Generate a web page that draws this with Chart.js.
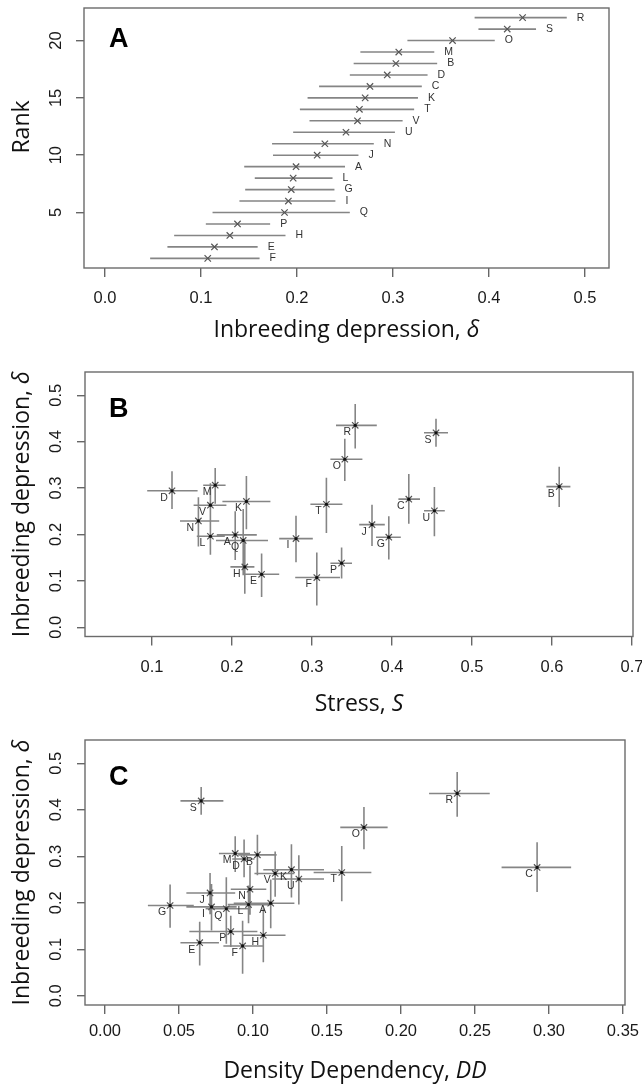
<!DOCTYPE html>
<html><head><meta charset="utf-8">
<script src="https://cdn.jsdelivr.net/npm/chart.js@4.4.1/dist/chart.umd.min.js"></script>
<style>
html,body{margin:0;padding:0;background:#fff;width:642px;height:1087px;overflow:hidden}
canvas{position:absolute;left:0;display:block}
</style></head><body>
<canvas id="cA" style="top:0px"></canvas>
<canvas id="cB" style="top:355px"></canvas>
<canvas id="cC" style="top:725px"></canvas>
<script>
// ---- data (populations A..V) ----
const pops     = ['A','B','C','D','E','F','G','H','I','J','K','L','M','N','O','P','Q','R','S','T','U','V'];
const rankOrd  = [9,18,16,17,2,1,7,3,6,10,15,8,19,11,20,4,5,22,21,14,12,13];
const delta    = [0.199,0.303,0.276,0.294,0.114,0.107,0.194,0.130,0.191,0.221,0.271,0.196,0.306,0.229,0.362,0.138,0.187,0.435,0.419,0.265,0.251,0.263];
const deltaLo  = [0.145,0.259,0.223,0.255,0.065,0.047,0.146,0.072,0.140,0.175,0.211,0.156,0.266,0.174,0.315,0.105,0.112,0.385,0.389,0.203,0.196,0.213];
const deltaHi  = [0.250,0.346,0.330,0.336,0.159,0.161,0.239,0.188,0.240,0.264,0.326,0.237,0.343,0.280,0.406,0.172,0.255,0.481,0.449,0.322,0.302,0.310];
const stress   = [0.204,0.609,0.421,0.125,0.237,0.306,0.396,0.216,0.280,0.375,0.218,0.173,0.179,0.158,0.341,0.337,0.214,0.354,0.455,0.318,0.453,0.173];
const stressLo = [0.181,0.593,0.408,0.094,0.216,0.279,0.380,0.198,0.259,0.359,0.188,0.156,0.164,0.135,0.323,0.323,0.180,0.330,0.440,0.298,0.440,0.152];
const stressHi = [0.231,0.623,0.435,0.157,0.259,0.335,0.411,0.228,0.301,0.391,0.248,0.191,0.192,0.184,0.363,0.350,0.245,0.381,0.470,0.338,0.466,0.193];
const dd       = [0.112,0.103,0.292,0.094,0.064,0.093,0.044,0.107,0.072,0.071,0.126,0.097,0.088,0.098,0.175,0.085,0.082,0.238,0.065,0.160,0.131,0.115];
const ddLo     = [0.087,0.090,0.268,0.086,0.051,0.080,0.029,0.093,0.055,0.055,0.107,0.083,0.077,0.085,0.159,0.057,0.068,0.219,0.051,0.141,0.113,0.101];
const ddHi     = [0.128,0.116,0.315,0.101,0.077,0.107,0.060,0.122,0.089,0.088,0.148,0.112,0.098,0.109,0.191,0.103,0.098,0.260,0.080,0.180,0.148,0.128];
// ---- tick labels ----
const aXTicks  = [0,0.1,0.2,0.3,0.4,0.5];
const aYTicks  = [5,10,15,20];
const bXTicks  = [0.1,0.2,0.3,0.4,0.5,0.6,0.7];
const cXTicks  = [0,0.05,0.1,0.15,0.2,0.25,0.3,0.35];
const dYTicks  = [0,0.1,0.2,0.3,0.4,0.5];

const BAR = '#858585', MARK = '#555';
const TICKFONT = '"Liberation Sans", Arial, sans-serif';
const TITLEFONT = '"Open Sans", "Noto Sans", sans-serif';
const TICKSIZE = 16.5, TITLESIZE = 23;

function hBars(ys, lo, hi){ const d=[]; ys.forEach((y,i)=>{ d.push({x:lo[i],y:y},{x:hi[i],y:y},{x:null,y:null}); }); return d; }
function vBars(xs, lo, hi){ const d=[]; xs.forEach((x,i)=>{ d.push({x:x,y:lo[i]},{x:x,y:hi[i]},{x:null,y:null}); }); return d; }
function pts(xs, ys){ return xs.map((x,i)=>({x:x,y:ys[i]})); }
function lineDs(data){ return {data, showLine:true, spanGaps:false, borderColor:BAR, borderWidth:1.6, pointRadius:0, order:3}; }
function markDs(data){ return {data, showLine:false, pointStyle:'crossRot', pointRadius:4.5, borderColor:MARK, borderWidth:1.2, backgroundColor:MARK, order:2}; }
function dotDs(data){ return {data, showLine:false, pointStyle:'circle', pointRadius:1.6, borderWidth:0, backgroundColor:'#111', order:1}; }

function mixed(ctx, parts, size, cx, cy, rot){
  ctx.save(); ctx.translate(cx, cy); if (rot) ctx.rotate(-Math.PI/2);
  const fonts = parts.map(p => (p.i ? 'italic ' : '') + size + 'px ' + TITLEFONT);
  let total = 0;
  parts.forEach((p,k)=>{ ctx.font = fonts[k]; total += ctx.measureText(p.t).width; });
  let x = -total/2;
  ctx.textBaseline='middle'; ctx.textAlign='left'; ctx.fillStyle='#111';
  parts.forEach((p,k)=>{ ctx.font = fonts[k]; ctx.fillText(p.t, x, 0); x += ctx.measureText(p.t).width; });
  ctx.restore();
}

function makePanel(cfg){
  const cv = document.getElementById(cfg.id);
  cv.width = 642; cv.height = cfg.H;
  const box = cfg.box;
  const deco = {
    id: 'deco' + cfg.id,
    afterDraw(chart){
      const ctx = chart.ctx, ca = chart.chartArea, xs = chart.scales.x, ys = chart.scales.y;
      ctx.save();
      ctx.strokeStyle = '#6b6b6b'; ctx.lineWidth = 1.4;
      ctx.strokeRect(ca.left, ca.top, ca.right - ca.left, ca.bottom - ca.top);
      ctx.fillStyle = '#1a1a1a'; ctx.font = TICKSIZE + 'px ' + TICKFONT; ctx.textAlign = 'center'; ctx.textBaseline = 'middle';
      cfg.yTicks.forEach(v => { const y = ys.getPixelForValue(v); ctx.save(); ctx.translate(56, y); ctx.rotate(-Math.PI/2); ctx.fillText(cfg.yFmt(v), 0, 0); ctx.restore(); });
      mixed(ctx, cfg.xTitle, TITLESIZE, (ca.left + ca.right)/2, ca.bottom + cfg.xTitleOff, false);
      mixed(ctx, cfg.yTitle, TITLESIZE, 22, cfg.yTitleY || (ca.top + ca.bottom)/2, true);
      ctx.font = 'bold 27px ' + TICKFONT; ctx.textAlign = 'left'; ctx.textBaseline = 'alphabetic'; ctx.fillStyle = '#000';
      ctx.fillText(cfg.letter, 109, cfg.letterY);
      ctx.font = '10.5px ' + TICKFONT; ctx.fillStyle = '#333'; ctx.textBaseline = 'middle';
      cfg.labels(ctx, xs, ys);
      ctx.restore();
    }
  };
  new Chart(cv, {
    type: 'scatter',
    data: { datasets: cfg.datasets },
    options: {
      responsive: false, animation: false, devicePixelRatio: 1, events: [],
      layout: { padding: { left: 0, top: box.t, right: 642 - box.r, bottom: 0 } },
      plugins: { legend: { display: false }, tooltip: { enabled: false } },
      scales: {
        x: {
          type: 'linear', position: 'bottom', min: cfg.xr[0], max: cfg.xr[1],
          afterBuildTicks(s){ s.ticks = cfg.xTicks.map(v => ({ value: v })); },
          afterFit(s){ s.height = cfg.H - box.b; s.paddingLeft = 0; s.paddingRight = 0; },
          grid: { drawOnChartArea: false, drawTicks: true, tickLength: 9, color: '#666', lineWidth: 1.4 },
          border: { display: false },
          ticks: { autoSkip: false, maxRotation: 0, minRotation: 0, padding: cfg.tickPad, color: '#1a1a1a',
                   font: { family: TICKFONT, size: TICKSIZE }, callback: (v) => cfg.xFmt(v) }
        },
        y: {
          type: 'linear', position: 'left', min: cfg.yr[0], max: cfg.yr[1],
          afterBuildTicks(s){ s.ticks = cfg.yTicks.map(v => ({ value: v })); },
          afterFit(s){ s.width = box.l; s.paddingTop = 0; s.paddingBottom = 0; },
          grid: { drawOnChartArea: false, drawTicks: true, tickLength: 8, color: '#666', lineWidth: 1.4 },
          border: { display: false },
          ticks: { display: false }
        }
      }
    },
    plugins: [deco]
  });
}

const deltaTitle = [{t:'Inbreeding depression, '},{t:'δ', i:true}];

makePanel({
  id:'cA', H:355, box:{l:84, t:8, r:609, b:268}, tickPad:12, xTitleOff:62, yTitleY:127,
  xr:[-0.0219, 0.525], yr:[0.16, 22.84], xTicks:aXTicks, yTicks:aYTicks,
  xFmt:v=>v.toFixed(1), yFmt:v=>String(v),
  xTitle: deltaTitle, yTitle:[{t:'Rank'}], letter:'A', letterY:47,
  datasets:[ lineDs(hBars(rankOrd, deltaLo, deltaHi)), markDs(pts(delta, rankOrd)) ],
  labels:(ctx, xs, ys)=>{ ctx.textAlign='left'; pops.forEach((p,i)=>{ ctx.fillText(p, xs.getPixelForValue(deltaHi[i]) + 10, ys.getPixelForValue(rankOrd[i])); }); }
});

makePanel({
  id:'cB', H:370, box:{l:85, t:17, r:633, b:281.5}, tickPad:12, xTitleOff:68,
  xr:[0.01625, 0.70125], yr:[-0.02, 0.55], xTicks:bXTicks, yTicks:dYTicks,
  xFmt:v=>v.toFixed(1), yFmt:v=>v.toFixed(1),
  xTitle:[{t:'Stress, '},{t:'S', i:true}], yTitle: deltaTitle, letter:'B', letterY:62,
  datasets:[ lineDs(hBars(delta, stressLo, stressHi)), lineDs(vBars(stress, deltaLo, deltaHi)), markDs(pts(stress, delta)), dotDs(pts(stress, delta)) ],
  labels:(ctx, xs, ys)=>{ ctx.textAlign='center'; pops.forEach((p,i)=>{ ctx.fillText(p, xs.getPixelForValue(stress[i]) - 8, ys.getPixelForValue(delta[i]) + 7); }); }
});

makePanel({
  id:'cC', H:362, box:{l:85, t:15, r:625, b:280}, tickPad:8, xTitleOff:66,
  xr:[-0.0135, 0.3514], yr:[-0.02, 0.55], xTicks:cXTicks, yTicks:dYTicks,
  xFmt:v=>v.toFixed(2), yFmt:v=>v.toFixed(1),
  xTitle:[{t:'Density Dependency, '},{t:'DD', i:true}], yTitle: deltaTitle, letter:'C', letterY:60,
  datasets:[ lineDs(hBars(delta, ddLo, ddHi)), lineDs(vBars(dd, deltaLo, deltaHi)), markDs(pts(dd, delta)), dotDs(pts(dd, delta)) ],
  labels:(ctx, xs, ys)=>{ ctx.textAlign='center'; pops.forEach((p,i)=>{ ctx.fillText(p, xs.getPixelForValue(dd[i]) - 8, ys.getPixelForValue(delta[i]) + 7); }); }
});
</script>
</body></html>
